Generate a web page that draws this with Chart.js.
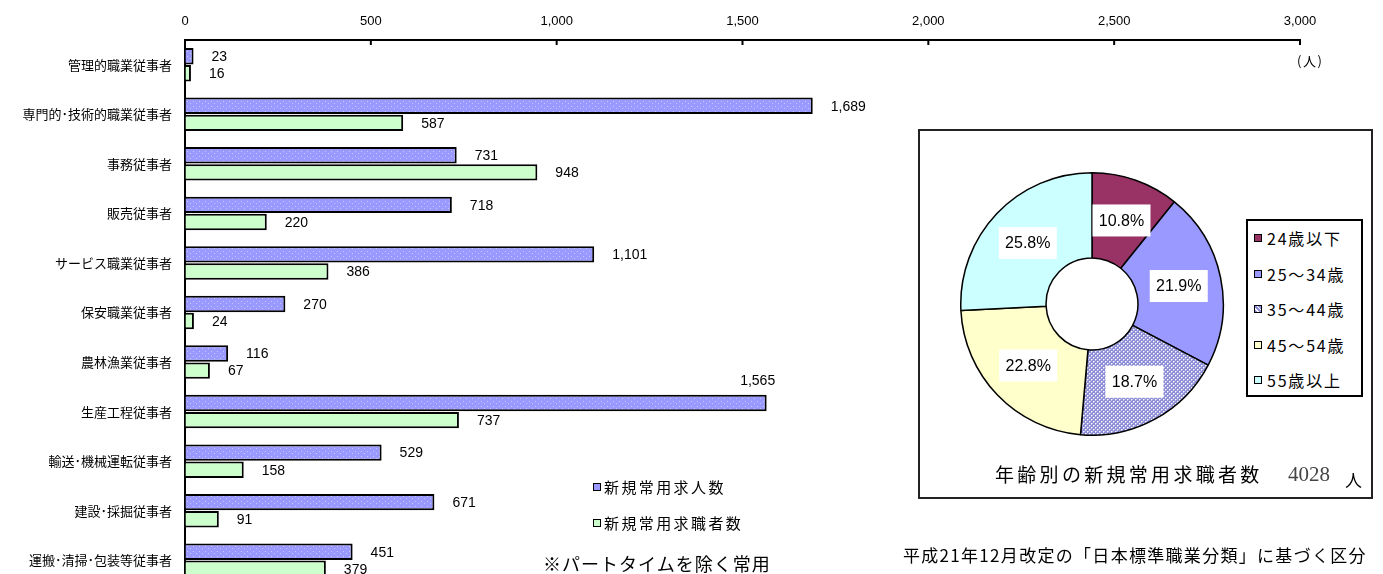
<!DOCTYPE html>
<html><head><meta charset="utf-8">
<script src="https://cdn.jsdelivr.net/npm/chart.js@4.4.1/dist/chart.umd.min.js"></script>
<style>
html,body{margin:0;padding:0;background:#fff;}
body{width:1383px;height:574px;overflow:hidden;position:relative;font-family:'Noto Sans CJK JP',sans-serif;color:#000;}
.abs{position:absolute;white-space:nowrap;line-height:1;}
#barWrap{position:absolute;left:0;top:0;width:1383px;height:585px;}
#pieBox{position:absolute;left:918px;top:129px;width:455px;height:370px;border:2px solid #222;box-sizing:border-box;background:#fff;}
#pieWrap{position:absolute;left:959px;top:171px;width:266px;height:266px;}
#pieLegend{position:absolute;left:1246px;top:219px;width:117px;height:178px;border:2px solid #000;box-sizing:border-box;background:#fff;}
.sq{position:absolute;width:6px;height:6px;border:1.5px solid #000;}
</style>
</head><body>
<div id="pieBox"></div>
<div id="barWrap"><canvas id="bar"></canvas></div>
<div id="pieWrap"><canvas id="pie"></canvas></div>
<div id="pieLegend"></div>
<div id="barLegend"></div>
<div class="abs" style="left:1297px;top:54px;font-size:13px;letter-spacing:1.5px;">(人)</div>
<div class="abs" id="pieTitle" style="left:995px;top:464px;font-size:19px;letter-spacing:3.3px;"></div>
<div class="abs" id="pieTotal" style="left:1288px;top:464px;font-size:21px;font-family:'Liberation Serif','DejaVu Serif',serif;color:#444;"></div>
<div class="abs" style="left:1345px;top:471px;font-size:17px;">人</div>
<div class="abs" style="left:543px;top:554px;font-size:18px;letter-spacing:1px;">※パートタイムを除く常用</div>
<div class="abs" style="left:903px;top:546px;font-size:17px;letter-spacing:1.3px;">平成21年12月改定の「日本標準職業分類」に基づく区分</div>
<script>
// ---- data ----
const categories = ['管理的職業従事者','専門的･技術的職業従事者','事務従事者','販売従事者','サービス職業従事者','保安職業従事者','農林漁業従事者','生産工程従事者','輸送･機械運転従事者','建設･採掘従事者','運搬･清掃･包装等従事者'];
const seriesNames = ['新規常用求人数','新規常用求職者数'];
const jobOffers  = [23,1689,731,718,1101,270,116,1565,529,671,451];
const jobSeekers = [16,587,948,220,386,24,67,737,158,91,379];
const ageLabels = ['24歳以下','25～34歳','35～44歳','45～54歳','55歳以上'];
const agePct = [10.8,21.9,18.7,22.8,25.8];
const pieTitle = '年齢別の新規常用求職者数';
const seekerTotal = 4028;

// ---- patterns ----
function makePattern(w,h,base,dots){
  const c=document.createElement('canvas'); c.width=w; c.height=h;
  const g=c.getContext('2d'); g.fillStyle=base; g.fillRect(0,0,w,h);
  dots.forEach(d=>{g.fillStyle=d[2]; g.fillRect(d[0],d[1],1,1);});
  return g.createPattern(c,'repeat');
}
const bluePattern = makePattern(6,5,'#9999FF',[[1,1,'#C8C8FF'],[4,3,'#C8C8FF']]);
const hatchPattern = makePattern(4,4,'#8E8ED6',[[0,0,'#FFFFFF'],[2,2,'#FFFFFF'],[1,0,'#C6C6EE'],[0,1,'#C6C6EE'],[3,2,'#C6C6EE'],[2,3,'#C6C6EE']]);

document.getElementById('pieTitle').textContent = pieTitle;
document.getElementById('pieTotal').textContent = seekerTotal;

// legends (HTML text)
const barLegendColors=['#9999FF','#CCFFCC'];
const barLegendY=[487,523];
const bl=document.getElementById('barLegend');
seriesNames.forEach((n,i)=>{
  const s=document.createElement('div'); s.className='sq';
  s.style.left='593px'; s.style.top=(barLegendY[i]-4)+'px'; s.style.background=barLegendColors[i];
  bl.appendChild(s);
  const t=document.createElement('div'); t.className='abs';
  t.style.cssText='left:604px;top:'+(barLegendY[i]-8)+'px;font-size:15px;letter-spacing:2.4px;';
  t.textContent=n; bl.appendChild(t);
});
const pieColorsCss=['#993366','#9999FF','repeating-linear-gradient(45deg,#8E8ED6 0 2px,#fff 2px 3px)','#FFFFCC','#CCFFFF'];
const pl=document.getElementById('pieLegend');
ageLabels.forEach((n,i)=>{
  const cy=18+i*35.5;
  const s=document.createElement('div'); s.className='sq';
  s.style.left='6px'; s.style.top=(cy-5)+'px'; s.style.background=pieColorsCss[i];
  pl.appendChild(s);
  const t=document.createElement('div'); t.className='abs';
  t.style.cssText='left:19px;top:'+(cy-9)+'px;font-size:16px;letter-spacing:1.8px;';
  t.textContent=n; pl.appendChild(t);
});

// ---- bar chart ----
const numFont = "'Liberation Sans', Arial, sans-serif";
const tickMarks={id:'tickMarks',afterDraw(chart){
  const ctx=chart.ctx, x=chart.scales.x, top=chart.chartArea.top;
  ctx.save(); ctx.strokeStyle='#000'; ctx.lineWidth=2; ctx.beginPath();
  x.ticks.forEach(t=>{const px=x.getPixelForValue(t.value); ctx.moveTo(px,top); ctx.lineTo(px,top+5);});
  ctx.stroke(); ctx.restore();
}};
const valueLabels={id:'valueLabels',afterDatasetsDraw(chart){
  const ctx=chart.ctx; ctx.save();
  ctx.font='14px '+numFont; ctx.fillStyle='#000'; ctx.textBaseline='middle';
  chart.data.datasets.forEach((ds,di)=>{
    chart.getDatasetMeta(di).data.forEach((el,i)=>{
      const txt=ds.data[i].toLocaleString('en-US');
      if(di===0 && categories[i]==='生産工程従事者'){ctx.textAlign='center'; ctx.fillText(txt,el.x-9,el.y-22);}
      else {ctx.textAlign='left'; ctx.fillText(txt,el.x+18,el.y+1);}
    });
  });
  ctx.restore();
}};
new Chart(document.getElementById('bar'),{
  type:'bar',
  data:{labels:categories,datasets:[
    {label:seriesNames[0],data:jobOffers,backgroundColor:bluePattern,borderColor:'#000',borderWidth:2,categoryPercentage:0.69,barPercentage:0.96},
    {label:seriesNames[1],data:jobSeekers,backgroundColor:'#CCFFCC',borderColor:'#000',borderWidth:2,categoryPercentage:0.69,barPercentage:0.96}
  ]},
  options:{
    indexAxis:'y',responsive:true,maintainAspectRatio:false,animation:false,events:[],
    layout:{padding:{left:0,right:83,top:0,bottom:0}},
    plugins:{legend:{display:false},tooltip:{enabled:false}},
    scales:{
      x:{position:'top',min:0,max:3000,
        ticks:{stepSize:500,color:'#000',font:{family:numFont,size:13},padding:11,maxRotation:0,
          callback:v=>Number(v).toLocaleString('en-US')},
        grid:{drawOnChartArea:false,drawTicks:false},
        border:{display:true,color:'#000',width:2},
        afterFit:s=>{s.height=40;s.paddingLeft=0;s.paddingRight=0;}},
      y:{ticks:{color:'#000',font:{family:"'Noto Sans CJK JP',sans-serif",size:13},padding:13},
        grid:{drawOnChartArea:false,drawTicks:false},
        border:{display:true,color:'#000',width:2},
        afterFit:s=>{s.width=185;s.paddingTop=0;s.paddingBottom=0;}}
    }
  },
  plugins:[tickMarks,valueLabels]
});

// ---- doughnut ----
const pieLabels={id:'pieLabels',afterDatasetsDraw(chart){
  const ctx=chart.ctx; ctx.save();
  ctx.font='16px '+numFont; ctx.textAlign='center'; ctx.textBaseline='middle';
  chart.getDatasetMeta(0).data.forEach((el,i)=>{
    const p=el.tooltipPosition();
    ctx.fillStyle='#fff'; ctx.fillRect(p.x-29,p.y-16,58,32);
    ctx.fillStyle='#000'; ctx.fillText(agePct[i].toFixed(1)+'%',p.x,p.y+1);
  });
  ctx.restore();
}};
new Chart(document.getElementById('pie'),{
  type:'doughnut',
  data:{labels:ageLabels,datasets:[{data:agePct,
    backgroundColor:['#993366','#9999FF',hatchPattern,'#FFFFCC','#CCFFFF'],
    borderColor:'#000',borderWidth:1.5}]},
  options:{responsive:true,maintainAspectRatio:false,animation:false,events:[],cutout:'35%',
    layout:{padding:1},
    plugins:{legend:{display:false},tooltip:{enabled:false}}},
  plugins:[pieLabels]
});
</script>
</body></html>
